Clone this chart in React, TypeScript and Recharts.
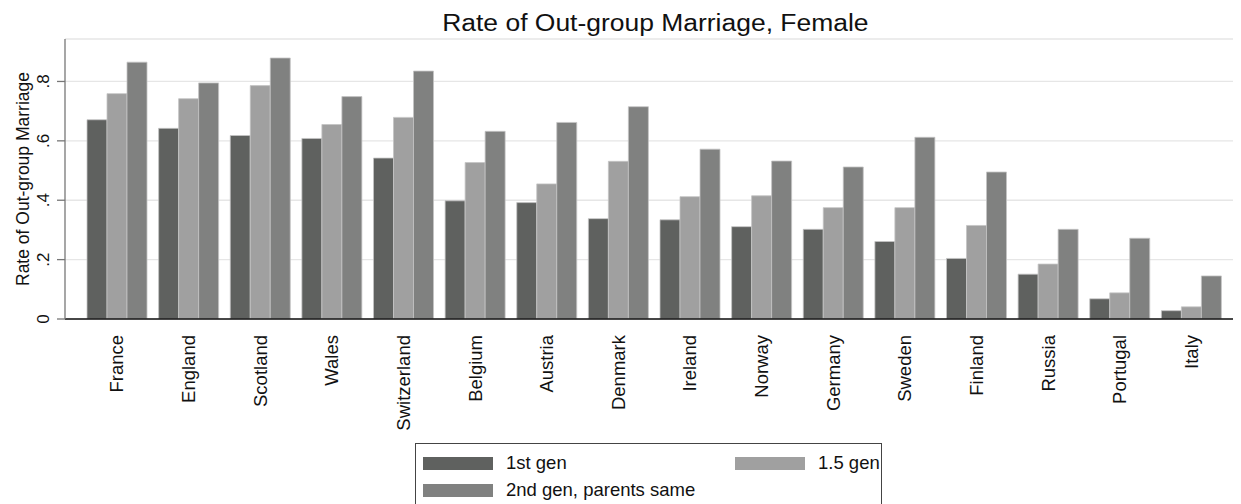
import React from 'react';
import { BarChart, Bar, XAxis, YAxis, CartesianGrid, Legend } from 'recharts';

const countries = ['France', 'England', 'Scotland', 'Wales', 'Switzerland', 'Belgium', 'Austria', 'Denmark', 'Ireland', 'Norway', 'Germany', 'Sweden', 'Finland', 'Russia', 'Portugal', 'Italy'];
const firstGen = [0.671, 0.642, 0.618, 0.608, 0.542, 0.398, 0.392, 0.338, 0.334, 0.311, 0.302, 0.261, 0.204, 0.151, 0.068, 0.028];
const oneHalfGen = [0.759, 0.742, 0.786, 0.655, 0.679, 0.527, 0.455, 0.531, 0.412, 0.415, 0.375, 0.375, 0.315, 0.185, 0.088, 0.041];
const secondGen = [0.865, 0.795, 0.879, 0.749, 0.835, 0.632, 0.662, 0.715, 0.572, 0.532, 0.512, 0.612, 0.495, 0.302, 0.272, 0.145];
const yTicks = [0, 0.2, 0.4, 0.6, 0.8];
const yTickLabels = ['0', '.2', '.4', '.6', '.8'];

const series = [
  { key: 'g1', name: '1st gen', color: '#5f615f' },
  { key: 'g15', name: '1.5 gen', color: '#a0a0a0' },
  { key: 'g2', name: '2nd gen, parents same', color: '#808180' },
];

const data = countries.map((c, i) => ({
  name: c,
  g1: firstGen[i],
  g15: oneHalfGen[i],
  g2: secondGen[i],
}));

const FONT = '"Liberation Sans", Arial, Helvetica, sans-serif';

const XTick = ({ x, y, payload }: any) => (
  <text
    transform={`translate(${x},${y + 8}) rotate(-90)`}
    textAnchor="end"
    dy="0.36em"
    fontSize={18.5}
    fontFamily={FONT}
    fill="#111"
  >
    {payload.value}
  </text>
);

const YTick = ({ y, payload }: any) => {
  const idx = yTicks.indexOf(payload.value);
  return (
    <text transform={`translate(41,${y}) rotate(-90)`} textAnchor="middle" fontSize={17} fontFamily={FONT} fill="#111">
      {idx >= 0 ? yTickLabels[idx] : payload.value}
    </text>
  );
};

const YLabel = (props: any) => {
  const vb = props.viewBox || {};
  const cy = (vb.y || 0) + (vb.height || 0) / 2;
  return (
    <text transform={`translate(21,${cy}) rotate(-90)`} textAnchor="middle" fontSize={17.5} fontFamily={FONT} fill="#111">
      Rate of Out-group Marriage
    </text>
  );
};

const LegendBox = () => (
  <div
    style={{
      border: '1px solid #444',
      width: 467,
      height: 64,
      boxSizing: 'border-box',
      position: 'relative',
      fontFamily: FONT,
      fontSize: 18.5,
      background: '#fff',
    }}
  >
    {series.map((s, i) => {
      const left = i === 1 ? 319 : 7;
      const top = i === 2 ? 37 : 10;
      return (
        <div key={s.key} style={{ position: 'absolute', left, top, display: 'flex', alignItems: 'center' }}>
          <div style={{ width: 70, height: 13, background: s.color, marginRight: 13 }} />
          <span style={{ lineHeight: '18px', color: '#111' }}>{s.name}</span>
        </div>
      );
    })}
  </div>
);

export default function App() {
  return (
    <div style={{ position: 'relative', width: 1233, height: 496 }}>
      <div
        style={{
          position: 'absolute',
          left: 0,
          width: 1294,
          top: 1,
          textAlign: 'center',
          fontFamily: FONT,
          fontSize: 23,
          lineHeight: '28px',
          color: '#111',
        }}
      >
        <span style={{ display: 'inline-block', transform: 'scaleX(1.15)' }}>Rate of Out-group Marriage, Female</span>
      </div>
      <BarChart
        width={1233}
        height={496}
        data={data}
        margin={{ top: 31, right: 0, left: 0, bottom: 0 }}
        barCategoryGap={6}
        barGap={0}
      >
        <CartesianGrid vertical={false} stroke="#e6e6e6" strokeWidth={1.3} />
        <XAxis
          dataKey="name"
          height={185}
          padding={{ left: 16, right: 14 }}
          tickLine={false}
          axisLine={{ stroke: '#111', strokeWidth: 1.3 }}
          tick={<XTick />}
          interval={0}
        />
        <YAxis
          width={57}
          domain={[0, 0.943]}
          ticks={yTicks}
          allowDataOverflow
          axisLine={{ stroke: '#777', strokeWidth: 1.3 }}
          tickLine={{ stroke: '#777', strokeWidth: 1.3 }}
          tickSize={8}
          tick={<YTick />}
          label={<YLabel />}
        />
        <Legend
          layout="vertical"
          align="center"
          verticalAlign="middle"
          wrapperStyle={{ left: 407, top: 435, width: 467, height: 64 }}
          content={() => <LegendBox />}
        />
        {series.map((s) => (
          <Bar
            key={s.key}
            dataKey={s.key}
            name={s.name}
            fill={s.color}
            stroke="#c4c4c4"
            strokeWidth={0.8}
            isAnimationActive={false}
          />
        ))}
      </BarChart>
    </div>
  );
}
